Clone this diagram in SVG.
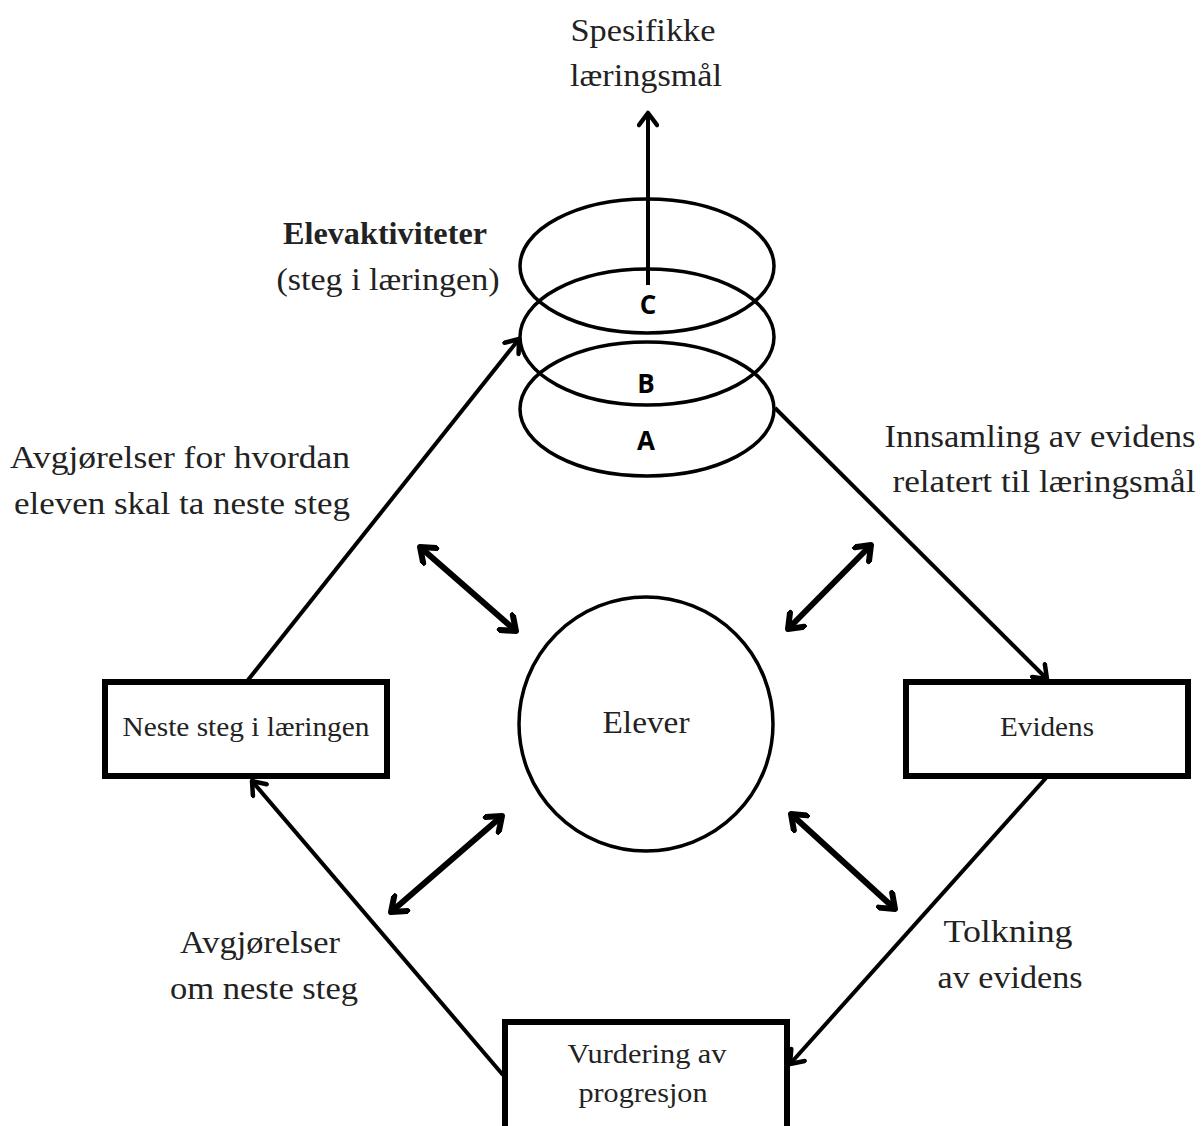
<svg xmlns="http://www.w3.org/2000/svg" width="1201" height="1126" viewBox="0 0 1201 1126">
<style>
.t{font-family:"Liberation Serif","Times New Roman",serif;fill:#222;text-anchor:middle}
.lbl{font-size:32px}
.bx{font-size:27px}
.box{fill:#fff;stroke:#000;stroke-width:6}
.ell{fill:none;stroke:#000;stroke-width:3.5}
.con{fill:none;stroke:#000;stroke-width:4;marker-end:url(#ah)}
.dbl{fill:none;stroke:#000;stroke-width:6;marker-end:url(#ah2);marker-start:url(#ah2s)}
.abc{font-family:"Open Sans","DejaVu Sans",sans-serif;font-weight:bold;font-size:26px;fill:#000;text-anchor:middle}
</style>
<defs>
<marker id="ah" markerUnits="userSpaceOnUse" viewBox="-15 -11 18 22" refX="0" refY="0" markerWidth="18" markerHeight="22" orient="auto">
<path d="M-12,-9 L0,0 L-12,9" fill="none" stroke="#000" stroke-width="4.5" stroke-linecap="round" stroke-linejoin="round"/>
</marker>
<marker id="ah2" markerUnits="userSpaceOnUse" viewBox="-16 -12 20 24" refX="0" refY="0" markerWidth="20" markerHeight="24" orient="auto">
<path d="M-13,-10 L0,0 L-13,10" fill="none" stroke="#000" stroke-width="6" stroke-linecap="round" stroke-linejoin="round"/>
</marker>
<marker id="ah2s" markerUnits="userSpaceOnUse" viewBox="-16 -12 20 24" refX="0" refY="0" markerWidth="20" markerHeight="24" orient="auto-start-reverse">
<path d="M-13,-10 L0,0 L-13,10" fill="none" stroke="#000" stroke-width="6" stroke-linecap="round" stroke-linejoin="round"/>
</marker>
</defs>

<g id="goal">
<text class="t lbl" x="643" y="41" textLength="145" lengthAdjust="spacingAndGlyphs">Spesifikke</text>
<text class="t lbl" x="646" y="86" textLength="152" lengthAdjust="spacingAndGlyphs">læringsmål</text>
</g>

<g id="activities">
<ellipse class="ell" cx="647" cy="266" rx="127" ry="67"/>
<ellipse class="ell" cx="647" cy="337" rx="127" ry="68"/>
<ellipse class="ell" cx="647" cy="409" rx="127" ry="67"/>
<text class="abc" x="648" y="314">C</text>
<text class="abc" x="646" y="393">B</text>
<text class="abc" x="646" y="450">A</text>
<text class="t" x="385" y="244" style="font-size:31px;font-weight:bold" textLength="204" lengthAdjust="spacingAndGlyphs">Elevaktiviteter</text>
<text class="t" x="388" y="290" style="font-size:31px" textLength="223" lengthAdjust="spacingAndGlyphs">(steg i læringen)</text>
</g>

<g id="elever">
<circle cx="646" cy="724" r="127" fill="#fff" stroke="#000" stroke-width="3.5"/>
<text class="t" x="646" y="733" style="font-size:32px" textLength="87" lengthAdjust="spacingAndGlyphs">Elever</text>
</g>

<g id="neste">
<rect class="box" x="105" y="682" width="282" height="94"/>
<text class="t bx" x="246" y="736" textLength="247" lengthAdjust="spacingAndGlyphs">Neste steg i læringen</text>
</g>

<g id="evidens">
<rect class="box" x="906" y="682" width="282" height="94"/>
<text class="t bx" x="1047" y="736" textLength="94" lengthAdjust="spacingAndGlyphs">Evidens</text>
</g>

<g id="vurdering">
<rect class="box" x="505" y="1022" width="282" height="110"/>
<text class="t bx" x="647" y="1063" textLength="159" lengthAdjust="spacingAndGlyphs">Vurdering av</text>
<text class="t bx" x="643" y="1102" textLength="129" lengthAdjust="spacingAndGlyphs">progresjon</text>
</g>

<g id="labels">
<text class="t lbl" x="180" y="468" textLength="340" lengthAdjust="spacingAndGlyphs">Avgjørelser for hvordan</text>
<text class="t lbl" x="182" y="514" textLength="336" lengthAdjust="spacingAndGlyphs">eleven skal ta neste steg</text>
<text class="t lbl" x="1040" y="447" textLength="311" lengthAdjust="spacingAndGlyphs">Innsamling av evidens</text>
<text class="t lbl" x="1044" y="492" textLength="303" lengthAdjust="spacingAndGlyphs">relatert til læringsmål</text>
<text class="t lbl" x="1008" y="942" textLength="129" lengthAdjust="spacingAndGlyphs">Tolkning</text>
<text class="t lbl" x="1010" y="988" textLength="145" lengthAdjust="spacingAndGlyphs">av evidens</text>
<text class="t lbl" x="260" y="953" textLength="160" lengthAdjust="spacingAndGlyphs">Avgjørelser</text>
<text class="t lbl" x="264" y="999" textLength="188" lengthAdjust="spacingAndGlyphs">om neste steg</text>
</g>

<g id="connectors">
<path class="con" d="M648,285 L648,113"/>
<path class="con" d="M248,680 L519,339"/>
<path class="con" d="M775,408 L1047,679"/>
<path class="con" d="M1046,778 L790,1064"/>
<path class="con" d="M503,1075 L252,781"/>
<path class="dbl" d="M420,547 L516,631"/>
<path class="dbl" d="M871,545 L788,629"/>
<path class="dbl" d="M502,816 L391,912"/>
<path class="dbl" d="M791,814 L895,909"/>
</g>
</svg>
